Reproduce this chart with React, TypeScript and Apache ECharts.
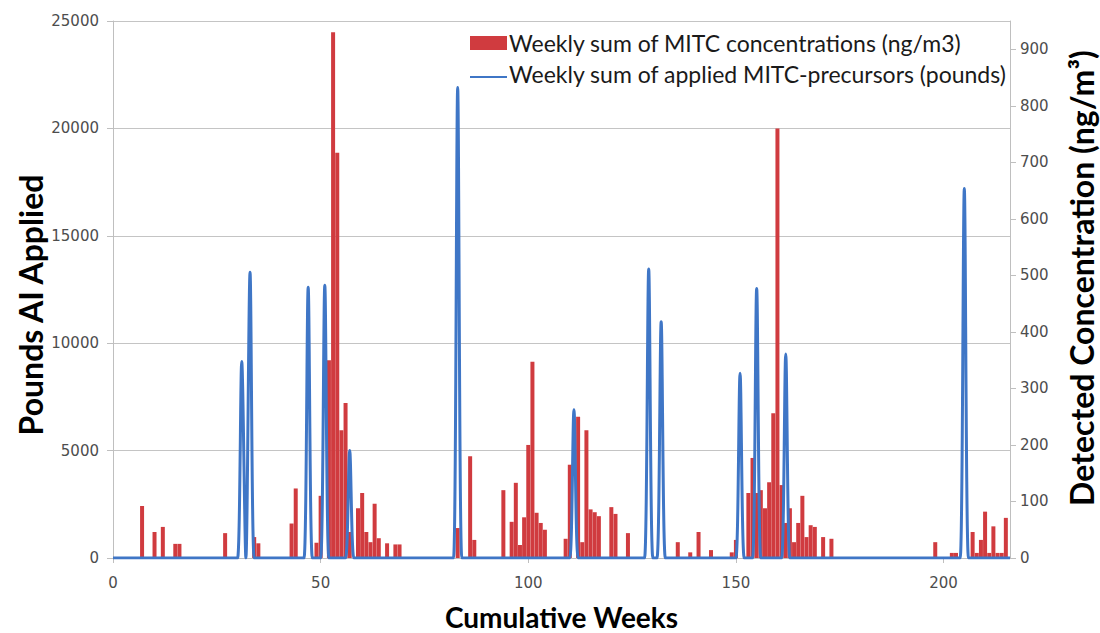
import React, { useEffect, useRef } from "react";
import * as echarts from "echarts";

// Weekly sum of MITC concentrations (ng/m3) — right axis
const concWeeks = [
  7, 10, 12, 15, 16, 27, 34, 35, 43, 44, 49, 50, 52, 53, 54, 55, 56, 57, 59, 60,
  61, 62, 63, 64, 66, 68, 69, 83, 86, 87, 94, 96, 97, 98, 99, 100, 101, 102, 103, 104,
  109, 110, 112, 113, 114, 115, 116, 117, 120, 121, 124, 136, 139, 141, 144, 149, 150,
  153, 154, 155, 156, 157, 158, 159, 160, 161, 162, 163, 164, 165, 166, 167, 168, 169,
  171, 173, 198, 202, 203, 207, 208, 209, 210, 211, 212, 213, 214, 215,
];
const concValues = [
  92, 46, 55, 25, 25, 44, 37, 26, 61, 123, 27, 110, 350, 930, 717, 226, 274, 46, 88, 115,
  46, 28, 96, 35, 26, 24, 24, 53, 180, 32, 120, 64, 133, 23, 72, 200, 347, 80, 62, 50,
  34, 165, 250, 28, 226, 86, 81, 74, 90, 78, 44, 28, 10, 46, 14, 10, 32,
  115, 177, 115, 120, 88, 134, 256, 760, 129, 62, 88, 28, 62, 110, 37, 58, 55,
  37, 34, 28, 9, 9, 46, 9, 32, 82, 9, 56, 9, 9, 71,
];

// Weekly sum of applied MITC-precursors (pounds) — left axis (all other weeks are 0)
const appliedWeeks = [31, 33, 47, 51, 57, 83, 111, 129, 132, 151, 155, 162, 205];
const appliedValues = [9150, 13300, 12600, 12700, 5000, 21900, 6900, 13450, 11000, 8600, 12550, 9500, 17200];

const FIRST_WEEK = 0;
const LAST_WEEK = 216;

const NAME_CONC = "Weekly sum of MITC concentrations (ng/m3)";
const NAME_APP = "Weekly sum of applied MITC-precursors (pounds)";

const RED = "#d03b3f";
const BLUE = "#3f76c6";

export default function App() {
  const ref = useRef<HTMLDivElement>(null);

  useEffect(() => {
    if (!ref.current) return;
    const chart = echarts.init(ref.current, null, { renderer: "svg" });

    const barData = concWeeks.map((w, i) => [w, concValues[i]]);
    const lineData: number[][] = [];
    for (let w = FIRST_WEEK; w <= LAST_WEEK; w++) {
      const idx = appliedWeeks.indexOf(w);
      lineData.push([w, idx >= 0 ? appliedValues[idx] : 0]);
    }

    const labelStyle = { color: "#4d4d4d", fontSize: 15, fontFamily: "DejaVu Sans" };
    const axisGray = "#bfbfbf";
    const legendFont = { fontFamily: "Lato", fontSize: 23, fill: "#1a1a1a" };

    chart.setOption({
      animation: false,
      backgroundColor: "#ffffff",
      grid: {
        left: 113,
        right: 90,
        top: 21,
        bottom: 75,
        containLabel: false,
        outerBoundsMode: "none",
      },
      xAxis: {
        type: "value",
        min: 0,
        max: LAST_WEEK,
        interval: 50,
        axisLine: { show: true, lineStyle: { color: axisGray } },
        axisTick: { show: true, length: 5, lineStyle: { color: axisGray } },
        splitLine: { show: false },
        axisLabel: { ...labelStyle, margin: 17, showMaxLabel: false },
        name: "Cumulative Weeks",
        nameLocation: "middle",
        nameGap: 45,
        nameTextStyle: { fontFamily: "Lato", fontWeight: "bold", fontSize: 28, color: "#000" },
      },
      yAxis: [
        {
          type: "value",
          position: "left",
          min: 0,
          max: 25000,
          interval: 5000,
          axisLine: { show: true, lineStyle: { color: axisGray } },
          axisTick: { show: true, length: 6, lineStyle: { color: axisGray } },
          axisLabel: { ...labelStyle, margin: 14, formatter: (v: number) => String(v) },
          splitLine: { show: true, lineStyle: { color: "#c4c4c4", width: 1 } },
        },
        {
          type: "value",
          position: "right",
          min: 0,
          max: 950,
          interval: 100,
          axisLine: { show: true, lineStyle: { color: axisGray } },
          axisTick: { show: true, length: 6, lineStyle: { color: axisGray } },
          axisLabel: { ...labelStyle, margin: 10, showMaxLabel: false },
          splitLine: { show: false },
        },
      ],
      series: [
        {
          type: "bar",
          name: NAME_CONC,
          yAxisIndex: 1,
          data: barData,
          barWidth: 4,
          itemStyle: { color: RED },
        },
        {
          type: "line",
          name: NAME_APP,
          yAxisIndex: 0,
          data: lineData,
          smooth: 0.3,
          symbol: "none",
          lineStyle: { width: 3, color: BLUE },
          itemStyle: { color: BLUE },
        },
      ],
      graphic: [
        // legend
        {
          type: "rect",
          shape: { x: 470, y: 36, width: 37, height: 14 },
          style: { fill: RED },
        },
        {
          type: "text",
          x: 509,
          y: 43,
          style: { text: NAME_CONC, ...legendFont, align: "left", verticalAlign: "middle" },
        },
        {
          type: "line",
          shape: { x1: 470, y1: 77, x2: 507, y2: 77 },
          style: { stroke: BLUE, lineWidth: 2 },
        },
        {
          type: "text",
          x: 509,
          y: 74,
          style: { text: NAME_APP, ...legendFont, align: "left", verticalAlign: "middle" },
        },
        // axis titles
        {
          type: "text",
          x: 30,
          y: 305,
          rotation: Math.PI / 2,
          style: {
            text: "Pounds AI Applied",
            fontFamily: "Lato",
            fontWeight: "bold",
            fontSize: 32,
            fill: "#000",
            align: "center",
            verticalAlign: "middle",
          },
        },
        {
          type: "text",
          x: 1081,
          y: 278,
          rotation: Math.PI / 2,
          style: {
            text: "Detected Concentration (ng/m³)",
            fontFamily: "Lato",
            fontWeight: "bold",
            fontSize: 32,
            fill: "#000",
            align: "center",
            verticalAlign: "middle",
          },
        },
      ],
    });

    return () => chart.dispose();
  }, []);

  return (
    <div
      ref={ref}
      style={{ position: "fixed", left: 0, top: 0, width: 1100, height: 633 }}
    />
  );
}
